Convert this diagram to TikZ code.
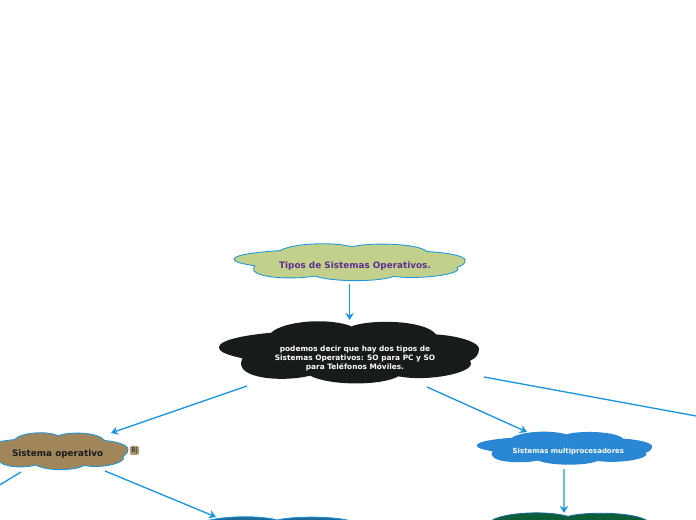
\documentclass[tikz,border=0pt]{standalone}
\usepackage{fontspec}
\setmainfont{DejaVu Sans}
\usepackage{tikz}
\usetikzlibrary{arrows.meta}
\definecolor{linkblue}{HTML}{1B95DD}
\definecolor{titlefill}{HTML}{C1D08A}
\definecolor{titletext}{HTML}{5F2D91}
\definecolor{nearblack}{HTML}{181B1C}
\definecolor{tanfill}{HTML}{A0865A}
\definecolor{multifill}{HTML}{2A87D3}
\definecolor{deepblue}{HTML}{1D6A9A}
\definecolor{deepgreen}{HTML}{0B5E38}

% cloud outline on a unit box, then placed and stretched
\newcommand{\cloudline}{(-.82,-.2) .. controls (-.92,-.1) and (-1,-.02) .. (-1,.15)
  .. controls (-1,.4) and (-.75,.55) .. (-.6,.6)
  .. controls (-.5,.98) and (-.15,1.08) .. (.02,.8)
  .. controls (.15,1.02) and (.58,1.02) .. (.67,.55)
  .. controls (.85,.5) and (1,.3) .. (1,.1)
  .. controls (1,-.1) and (.97,-.2) .. (.93,-.28)
  .. controls (1,-.62) and (.62,-.95) .. (.38,-.76)
  .. controls (.25,-1.06) and (-.15,-1.06) .. (-.3,-.74)
  .. controls (-.5,-.95) and (-.9,-.85) .. (-.82,-.2) -- cycle}
\newcommand{\cloudblob}[5]{\path[#5, shift={(#1,#2)}, xscale=#3, yscale=#4] \cloudline;}

\begin{document}
\begin{tikzpicture}[
    arr/.style   = {-{Stealth[length=5pt, width=6pt]}, line width=0.95pt, color=linkblue},
    blob/.style  = {line width=0.6pt},
    label/.style = {align=center, inner sep=0pt, font=\bfseries},
  ]
    \useasboundingbox (0,0) rectangle (17.4,13);
    \clip (0,0) rectangle (17.4,13);

    %% cloud bodies
    \cloudblob{8.74}{6.45}{2.89}{.475}{blob, fill=titlefill, draw=linkblue}
    \cloudblob{8.725}{4.2}{3.25}{.8}{fill=nearblack}
    \cloudblob{1.425}{1.725}{1.775}{.475}{blob, fill=tanfill, draw=linkblue}
    \cloudblob{14.11}{1.8}{2.19}{.425}{fill=multifill}
    \cloudblob{6.875}{-.4}{3.2}{.5}{blob, fill=deepblue, draw=linkblue}
    \cloudblob{14.14}{-.35}{3.1}{.55}{blob, fill=deepgreen, draw=deepblue}

    %% texts
    \node[label, text=titletext, font=\bfseries\fontsize{6.3}{7}\selectfont]   (title) at (8.875, 6.35)  {Tipos de Sistemas Operativos.};
    \node[label, text=white, font=\bfseries\fontsize{5.25}{6.4}\selectfont]    (intro) at (8.875, 4.05)  {podemos decir que hay dos tipos de\\Sistemas Operativos: SO para PC y SO\\para Teléfonos Móviles.};
    \node[label, text=nearblack, font=\bfseries\fontsize{6.3}{7}\selectfont]   (sisop) at (1.44, 1.65)   {Sistema operativo};
    \node[label, text=white, font=\bfseries\fontsize{4.95}{6}\selectfont]      (multi) at (14.21, 1.7)   {Sistemas multiprocesadores};
    \node[inner sep=0pt]  (deep)  at (7.0, -.4)   {};
    \node[inner sep=0pt]  (green) at (14.19, -.35) {};

    %% small tag beside Sistema operativo
    \node[fill=tanfill!85!white, rounded corners=1pt, inner sep=0pt, minimum width=.22cm, minimum height=.23cm,
          text=nearblack, font=\fontsize{4.6}{5}\selectfont] (tag) at (3.36, 1.74) {Bj};

    %% ends that leave the page
    \coordinate (offright) at (18, 2.49);
    \coordinate (offleft)  at (-.75, .425);

    %% connectors
    \draw[arr] ([shift={(-.135,-.45)}]title.center)  -- ([shift={(-.135,.95)}]intro.center);
    \draw[arr] ([shift={(-2.7,-.7)}]intro.center)    -- ([shift={(1.335,.525)}]sisop.center);
    \draw[arr] ([shift={(1.8,-.725)}]intro.center)   -- ([shift={(-1.035,.5)}]multi.center);
    \draw[arr] ([shift={(3.225,-.475)}]intro.center) -- (offright);
    \draw[arr] ([shift={(-.915,-.45)}]sisop.center)  -- (offleft);
    \draw[arr] ([shift={(1.185,-.425)}]sisop.center) -- ([shift={(-1.6,.475)}]deep.center);
    \draw[arr] ([shift={(-.11,-.425)}]multi.center)  -- ([shift={(-.09,.525)}]green.center);
\end{tikzpicture}
\end{document}
